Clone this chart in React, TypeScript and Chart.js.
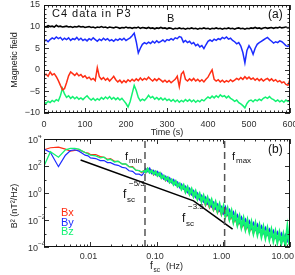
import { useEffect, useRef } from 'react';
import { Chart, registerables } from 'chart.js';

Chart.register(...registerables);

const FONT = '"Liberation Sans", Arial, Helvetica, sans-serif';

// ---------------- panel (a): time series ----------------
const timeSec = [
  0, 5, 10, 15, 20, 25, 30, 35, 40, 45, 50,
  55, 60, 65, 70, 75, 80, 85, 90, 95, 100,
  105, 110, 115, 120, 125, 130, 135, 140, 145, 150,
  155, 160, 165, 170, 175, 180, 185, 190, 195, 200,
  205, 210, 215, 220, 225, 230, 235, 240, 245, 250,
  255, 260, 265, 270, 275, 280, 285, 290, 295, 300,
  305, 310, 315, 320, 325, 330, 335, 340, 345, 350,
  355, 360, 365, 370, 375, 380, 385, 390, 395, 400,
  405, 410, 415, 420, 425, 430, 435, 440, 445, 450,
  455, 460, 465, 470, 475, 480, 485, 490, 495, 500,
  505, 510, 515, 520, 525, 530, 535, 540, 545, 550,
  555, 560, 565, 570, 575, 580, 585, 590, 595, 600,
];

const magB = [
  10.1, 9.9, 10.2, 10.0, 10.1, 9.9, 10.3, 10.0, 10.1, 9.9, 10.0,
  10.1, 9.9, 10.0, 9.8, 10.0, 9.9, 10.1, 9.9, 10.0, 9.8,
  9.9, 10.0, 9.8, 9.9, 9.7, 9.9, 9.8, 10.0, 9.8, 9.9,
  9.7, 9.9, 9.8, 9.7, 9.9, 9.8, 9.6, 9.8, 9.7, 9.9,
  9.7, 9.8, 9.6, 9.8, 9.7, 9.9, 9.6, 9.8, 9.7, 9.6,
  9.8, 9.6, 9.7, 9.5, 9.7, 9.6, 9.8, 9.6, 9.7, 9.5,
  9.7, 9.6, 9.4, 9.6, 9.5, 9.7, 9.5, 9.6, 9.4, 9.6,
  9.5, 9.7, 9.5, 9.6, 9.4, 9.6, 9.5, 9.7, 9.5, 9.6,
  9.4, 9.6, 9.5, 9.7, 9.5, 9.6, 9.4, 9.6, 9.5, 9.7,
  9.5, 9.6, 9.4, 9.6, 9.7, 9.5, 9.6, 9.4, 9.6, 9.5,
  9.7, 9.6, 9.8, 9.6, 9.7, 9.5, 9.7, 9.8, 9.6, 9.7,
  9.8, 9.6, 9.8, 9.7, 9.9, 9.7, 9.8, 9.9, 9.7, 9.8,
];

const byField = [
  6.6, 6.9, 6.5, 7.0, 7.4, 7.1, 7.6, 7.2, 7.5, 6.9, 7.3,
  7.0, 7.4, 6.8, 7.2, 7.0, 7.5, 6.9, 7.3, 6.8, 7.1,
  6.7, 7.2, 6.9, 7.4, 7.0, 6.6, 7.1, 6.8, 7.3, 6.9,
  7.2, 6.7, 7.0, 6.6, 7.1, 6.8, 7.2, 6.9, 7.3, 6.8,
  7.1, 7.4, 7.9, 8.5, 6.5, 3.9, 5.0, 5.9, 6.3, 6.0,
  6.4, 6.1, 6.6, 6.2, 6.7, 6.3, 6.6, 6.9, 6.5, 7.0,
  6.8, 7.2, 6.9, 7.4, 7.2, 7.7, 7.5, 6.4, 6.8, 6.3,
  6.6, 6.0, 6.3, 5.6, 5.9, 5.3, 5.6, 4.9, 5.8, 6.6,
  6.9, 6.6, 7.1, 6.8, 7.2, 7.0, 7.5, 7.2, 7.6, 7.1,
  7.3, 6.8, 6.5, 6.0, 6.3, 5.5, 4.0, 1.6, 4.5, 5.6,
  4.8, 3.6, 5.0, 5.9, 6.3, 6.6, 6.9, 7.2, 7.5, 7.0,
  6.6, 6.2, 6.5, 6.3, 6.7, 6.5, 6.1, 5.6, 5.4, 5.8,
];

const bxField = [
  -1.3, -1.0, -1.5, -0.5, -1.2, -0.9, -1.6, -2.5, -3.6, -4.6, -4.4,
  -3.0, -1.4, -0.5, -0.9, -1.3, -0.8, -1.4, -1.1, -1.7, -1.4,
  -2.0, -1.7, -2.3, -2.0, -2.5, 0.5, -1.6, -2.2, -1.8, -2.4,
  -2.0, -2.6, -2.1, -1.5, -2.3, -2.8, -2.4, -3.0, -2.5, -2.9,
  -2.3, -2.7, -2.2, -2.6, -2.1, -2.5, -1.9, -2.4, -2.0, -2.3,
  -1.7, -2.2, -2.6, -2.1, -2.5, -2.0, -2.4, -2.8, -2.4, -2.9,
  -2.5, -3.0, -2.6, -2.2, -1.5, -3.9, -1.0, -0.4, -2.2, -2.6,
  -2.1, -2.5, -2.0, -2.6, -2.2, -2.7, -2.3, -2.8, -2.2, -1.7,
  -0.8, 0.0, -2.2, -2.6, -2.3, -2.8, -2.4, -2.9, -2.5, -2.8,
  -2.3, -2.7, -2.4, -2.0, -2.3, -1.8, -2.2, -1.6, -2.1, -1.7,
  -2.2, -1.9, -2.4, -2.0, -2.5, -2.1, -2.6, -2.2, -2.0, -2.5,
  -2.1, -2.6, -2.3, -2.8, -2.5, -3.0, -2.8, -3.4, -3.6, -2.2,
];

const bzField = [
  -7.5, -7.8, -7.3, -7.6, -7.1, -7.4, -6.9, -7.2, -6.0, -4.3, -5.6,
  -6.4, -6.0, -6.6, -6.2, -6.7, -6.3, -6.8, -6.5, -6.9, -6.4,
  -6.0, -6.6, -7.0, -6.6, -7.1, -6.7, -7.0, -6.4, -6.8, -6.3,
  -6.7, -6.2, -6.8, -6.4, -6.9, -6.5, -7.0, -6.6, -7.2, -7.8,
  -8.6, -7.4, -5.5, -3.6, -4.8, -6.4, -7.2, -6.8, -7.1, -6.6,
  -5.9, -6.5, -6.2, -6.8, -6.4, -6.9, -6.5, -7.0, -6.6, -7.1,
  -6.8, -7.3, -6.9, -7.4, -7.0, -7.5, -7.1, -7.4, -6.9, -7.3,
  -6.9, -7.4, -7.0, -7.5, -7.1, -7.4, -6.9, -7.2, -6.7, -6.3,
  -6.6, -6.1, -6.5, -6.0, -6.4, -5.8, -6.2, -6.0, -6.5, -6.1,
  -6.6, -6.9, -7.3, -7.0, -7.6, -7.9, -8.3, -8.8, -7.8, -7.2,
  -7.0, -7.4, -6.9, -7.2, -6.8, -7.1, -6.6, -6.3, -6.6, -6.2,
  -6.7, -6.9, -7.3, -7.0, -7.4, -7.1, -7.5, -7.0, -7.3, -7.1,
];

const timeTicks = [0, 100, 200, 300, 400, 500, 600];
const fieldTicks = [-10, -5, 0, 5, 10, 15];

// ---------------- panel (b): spectra ----------------
const specFreq = [
  0.002, 0.0025, 0.0033, 0.0042, 0.005, 0.0058, 0.0067, 0.0075, 0.0083, 0.0092,
  0.010, 0.012, 0.014, 0.016, 0.018, 0.020, 0.023, 0.026, 0.030, 0.034,
  0.038, 0.043, 0.048, 0.054, 0.059,
  0.0631, 0.0676, 0.0724, 0.0776, 0.0832, 0.0891, 0.0955, 0.102, 0.110, 0.117,
  0.126, 0.135, 0.145, 0.155, 0.166, 0.178, 0.191, 0.204, 0.219, 0.234,
  0.251, 0.269, 0.288, 0.309, 0.331, 0.355, 0.380, 0.407, 0.437, 0.468,
  0.501, 0.537, 0.575, 0.617, 0.661, 0.708, 0.759, 0.813, 0.871, 0.933,
  1.00, 1.07, 1.15, 1.23, 1.32, 1.41, 1.51, 1.62, 1.74, 1.86,
  2.00, 2.14, 2.29, 2.45, 2.63, 2.82, 3.02, 3.24, 3.47, 3.72,
  3.98, 4.27, 4.57, 4.90, 5.25, 5.62, 6.03, 6.46, 6.92, 7.41,
  7.94, 8.51, 9.12, 9.77,
];

// log10 of the power spectral density (nT^2/Hz)
const bxLogPsd = [
  3.2, 3.35, 3.4, 3.25, 3.1, 3.15, 3.2, 3.1, 3.0, 2.95,
  2.85, 2.85, 2.7, 2.65, 2.5, 2.55, 2.35, 2.35, 2.15, 2.15,
  1.95, 1.95, 1.7, 1.65, 1.5,
  1.67, 1.51, 1.80, 1.52, 1.67, 1.35, 1.56, 1.27, 1.47, 1.11,
  1.25, 0.93, 1.12, 0.79, 0.98, 0.63, 0.82, 0.48, 0.65, 0.30,
  0.50, 0.05, 0.32, -0.11, 0.16, -0.28, -0.02, -0.47, -0.20, -0.63,
  -0.36, -0.92, -0.64, -1.10, -0.83, -1.27, -0.99, -1.45, -1.16, -1.61,
  -1.30, -1.78, -1.50, -1.99, -1.70, -2.18, -1.90, -2.39, -2.10, -2.56,
  -2.26, -2.72, -2.40, -2.85, -2.53, -2.98, -2.57, -3.01, -2.69, -3.14,
  -2.81, -3.25, -2.93, -3.38, -3.04, -3.47, -3.14, -3.58, -3.24, -3.67,
  -3.34, -3.78, -3.22, -3.80,
];

const byLogPsd = [
  3.25, 3.0, 1.95, 2.8, 3.15, 3.2, 3.1, 2.95, 2.8, 2.75,
  2.6, 2.55, 2.4, 2.4, 2.25, 2.25, 2.1, 2.05, 1.9, 1.85,
  1.65, 1.6, 1.4, 1.4, 1.3,
  1.48, 1.80, 1.60, 1.82, 1.46, 1.65, 1.37, 1.57, 1.25, 1.42,
  1.06, 1.23, 0.90, 1.11, 0.78, 0.98, 0.61, 0.79, 0.42, 0.64,
  0.31, 0.48, 0.06, 0.32, -0.10, 0.15, -0.30, -0.04, -0.47, -0.20,
  -0.63, -0.34, -0.78, -0.52, -0.99, -0.71, -1.15, -0.86, -1.30, -1.04,
  -1.49, -1.05, -1.57, -1.25, -1.73, -1.43, -1.95, -1.64, -2.15, -1.81,
  -2.30, -1.97, -2.45, -2.10, -2.58, -2.23, -2.69, -2.34, -2.82, -2.47,
  -2.94, -2.58, -3.05, -2.71, -3.17, -2.80, -3.27, -2.91, -3.36, -3.00,
  -3.47, -3.11, -3.55, -3.16,
];

const bzLogPsd = [
  2.0, 3.05, 2.65, 3.2, 3.3, 3.3, 3.25, 3.1, 3.0, 2.9,
  2.8, 2.75, 2.6, 2.65, 2.45, 2.5, 2.3, 2.35, 2.15, 2.15,
  1.95, 1.9, 1.7, 1.65, 1.55,
  1.65, 1.55, 1.78, 1.53, 1.65, 1.42, 1.57, 1.30, 1.45, 1.13,
  1.27, 0.98, 1.14, 0.81, 0.97, 0.64, 0.85, 0.50, 0.68, 0.30,
  0.56, 0.10, 0.42, -0.05, 0.27, -0.23, 0.10, -0.42, -0.08, -0.61,
  -0.23, -0.77, -0.37, -0.92, -0.54, -1.13, -0.70, -1.31, -0.85, -1.49,
  -1.00, -1.70, -1.18, -1.90, -1.37, -2.12, -1.56, -2.33, -1.76, -2.52,
  -1.91, -2.66, -2.05, -2.82, -2.19, -2.94, -2.29, -3.05, -2.42, -3.19,
  -2.55, -3.30, -2.65, -3.41, -2.77, -3.52, -2.88, -3.63, -2.97, -3.71,
  -3.07, -3.83, -2.60, -3.83,
];

const fitFreq = [0.0071, 0.355, 1.37];
const fitPsd = [275, 0.26, 0.0021];
const fMin = 0.066;
const fMax = 1.04;
const psdAxisMin = 1e-4;
const psdAxisMax = 1e4;

const freqTicks = [0.01, 0.1, 1, 10];
const freqTickLabels = ['0.01', '0.10', '1.00', '10.00'];
const psdTicks = [1e-4, 1e-2, 1, 1e2, 1e4];
const psdTickExp = ['\u22124', '\u22122', '0', '2', '4'];

const RED = '#ff2e14';
const BLUE = '#1c2cff';
const GREEN = '#12f272';

// ---------------- helpers ----------------
const pts = (xs: number[], ys: number[]) => xs.map((x, i) => ({ x, y: ys[i] }));

function drawFrame(chart: any, xMaj: number[], xMin: number[], yMaj: number[], yMin: number[]) {
  const { ctx, chartArea: a } = chart;
  const xs = chart.scales.x;
  const ys = chart.scales.y;
  ctx.save();
  ctx.strokeStyle = '#333';
  ctx.lineWidth = 1;
  ctx.beginPath();
  const vt = (v: number, len: number) => {
    const p = Math.round(xs.getPixelForValue(v)) + 0.5;
    ctx.moveTo(p, a.bottom);
    ctx.lineTo(p, a.bottom - len);
    ctx.moveTo(p, a.top);
    ctx.lineTo(p, a.top + len);
  };
  const ht = (v: number, len: number) => {
    const p = Math.round(ys.getPixelForValue(v)) + 0.5;
    ctx.moveTo(a.left, p);
    ctx.lineTo(a.left + len, p);
    ctx.moveTo(a.right, p);
    ctx.lineTo(a.right - len, p);
  };
  xMaj.forEach((v) => vt(v, 5));
  xMin.forEach((v) => vt(v, 2.5));
  yMaj.forEach((v) => ht(v, 5));
  yMin.forEach((v) => ht(v, 2.5));
  ctx.stroke();
  ctx.strokeStyle = '#111';
  ctx.strokeRect(a.left + 0.5, a.top + 0.5, a.right - a.left - 1, a.bottom - a.top - 1);
  ctx.restore();
}

function text(ctx: any, s: string, x: number, y: number, size: number, color = '#111', align = 'left', base = 'alphabetic') {
  ctx.font = `${size}px ${FONT}`;
  ctx.fillStyle = color;
  ctx.textAlign = align;
  ctx.textBaseline = base;
  ctx.fillText(s, x, y);
}

const baseOptions = {
  animation: false,
  responsive: false,
  devicePixelRatio: 1,
  events: [],
  plugins: { legend: { display: false }, tooltip: { enabled: false } },
  elements: { point: { radius: 0 }, line: { tension: 0 } },
};

const tickFont = { family: FONT, size: 9 };

function topConfig(): any {
  const xMinor: number[] = [];
  for (let t = 10; t < 600; t += 10) if (t % 100 !== 0) xMinor.push(t);
  const yMinor: number[] = [];
  for (let v = -9; v < 15; v += 1) if (v % 5 !== 0) yMinor.push(v);
  return {
    type: 'line',
    data: {
      datasets: [
        { data: pts(timeSec, magB), borderColor: '#000', borderWidth: 1.6 },
        { data: pts(timeSec, byField), borderColor: BLUE, borderWidth: 1.5 },
        { data: pts(timeSec, bxField), borderColor: RED, borderWidth: 1.5 },
        { data: pts(timeSec, bzField), borderColor: GREEN, borderWidth: 1.5 },
      ],
    },
    options: {
      ...baseOptions,
      layout: { padding: { left: 0, top: 5, right: 5, bottom: 0 } },
      scales: {
        x: {
          type: 'linear', min: 0, max: 600,
          grid: { display: false, drawTicks: false },
          border: { display: false },
          ticks: { stepSize: 100, padding: 6, color: '#333', font: tickFont, maxRotation: 0, autoSkip: false },
          afterFit: (s: any) => { s.height = 27; s.paddingLeft = 0; s.paddingRight = 0; },
        },
        y: {
          type: 'linear', min: -10, max: 15,
          grid: { display: false, drawTicks: false },
          border: { display: false },
          ticks: {
            stepSize: 5, padding: 4, color: '#333', font: tickFont,
            callback: (v: number) => (v < 0 ? '\u2212' + Math.abs(v) : String(v)),
          },
          afterFit: (s: any) => { s.width = 44; s.paddingTop = 0; s.paddingBottom = 0; },
        },
      },
    },
    plugins: [
      {
        id: 'decorA',
        afterDraw(chart: any) {
          const ctx = chart.ctx;
          drawFrame(chart, timeTicks, xMinor, fieldTicks, yMinor);
          ctx.save();
          ctx.letterSpacing = '1px';
          text(ctx, 'C4 data in P3', 52, 14, 11, '#111', 'left', 'middle');
          ctx.letterSpacing = '0px';
          text(ctx, 'B', 167, 19, 11, '#111', 'left', 'middle');
          text(ctx, '(a)', 268, 15, 12, '#111', 'left', 'middle');
          text(ctx, 'Time (s)', 167, 133, 9, '#222', 'center', 'middle');
          ctx.translate(15, 60);
          ctx.rotate(-Math.PI / 2);
          text(ctx, 'Magnetic field', 0, 0, 9, '#222', 'center', 'middle');
          ctx.restore();
        },
      },
    ],
  };
}

function botConfig(): any {
  const xMinor: number[] = [];
  [0.001, 0.01, 0.1, 1].forEach((d) => {
    for (let m = 2; m <= 9; m++) {
      const v = m * d;
      if (v >= 0.002 && v <= 10) xMinor.push(v);
    }
  });
  const yMinor = [1e-3, 1e-1, 1e1, 1e3];
  const wide = (w0: number, w1: number) => ({
    borderWidth: (c: any) => (c.p0 && c.p0.parsed && c.p0.parsed.x > 0.06 ? w1 : w0),
  });
  return {
    type: 'line',
    data: {
      datasets: [
        { data: [{ x: fMin, y: psdAxisMin }, { x: fMin, y: psdAxisMax }], borderColor: '#555', borderWidth: 1.5, borderDash: [7, 4] },
        { data: [{ x: fMax, y: psdAxisMin }, { x: fMax, y: psdAxisMax }], borderColor: '#555', borderWidth: 1.5, borderDash: [7, 4] },
        { data: pts(fitFreq, fitPsd), borderColor: '#000', borderWidth: 1.5 },
        { data: pts(specFreq, bzLogPsd.map((v) => 10 ** v)), borderColor: GREEN, borderWidth: 1.3, segment: wide(1.3, 2.4) },
        { data: pts(specFreq, byLogPsd.map((v) => 10 ** v)), borderColor: BLUE, borderWidth: 1.2, segment: wide(1.2, 1.6) },
        { data: pts(specFreq, bxLogPsd.map((v) => 10 ** v)), borderColor: RED, borderWidth: 1.2, segment: wide(1.2, 1.6) },
      ],
    },
    options: {
      ...baseOptions,
      layout: { padding: { left: 0, top: 4, right: 5, bottom: 0 } },
      scales: {
        x: {
          type: 'logarithmic', min: 0.002, max: 10,
          grid: { display: false, drawTicks: false },
          border: { display: false },
          afterBuildTicks: (s: any) => { s.ticks = freqTicks.map((v) => ({ value: v })); },
          ticks: { display: false },
          afterFit: (s: any) => { s.height = 28; s.paddingLeft = 0; s.paddingRight = 0; },
        },
        y: {
          type: 'logarithmic', min: psdAxisMin, max: psdAxisMax,
          grid: { display: false, drawTicks: false },
          border: { display: false },
          afterBuildTicks: (s: any) => { s.ticks = psdTicks.map((v) => ({ value: v })); },
          ticks: { display: false },
          afterFit: (s: any) => { s.width = 44; s.paddingTop = 0; s.paddingBottom = 0; },
        },
      },
    },
    plugins: [
      {
        id: 'decorB',
        afterDraw(chart: any) {
          const ctx = chart.ctx;
          const xs = chart.scales.x;
          const ys = chart.scales.y;
          drawFrame(chart, freqTicks, xMinor, psdTicks, yMinor);
          ctx.save();
          psdTicks.forEach((v, i) => {
            const y = ys.getPixelForValue(v);
            text(ctx, '10', 28, y + 3.5, 9, '#333');
            text(ctx, psdTickExp[i], 38, y - 1, 6.5, '#333');
          });
          freqTicks.forEach((v, i) => {
            ctx.font = `9px ${FONT}`;
            const w = ctx.measureText(freqTickLabels[i]).width;
            let cx = xs.getPixelForValue(v) - 2;
            if (cx + w / 2 > 294) cx = 294 - w / 2;
            text(ctx, freqTickLabels[i], cx, 122, 9, '#333', 'center', 'middle');
          });
          text(ctx, '(b)', 268, 15, 12, '#111', 'left', 'middle');
          // f_min / f_max
          text(ctx, 'f', 125, 25, 11);
          text(ctx, 'min', 129, 28, 8);
          text(ctx, 'f', 232, 25, 11);
          text(ctx, 'max', 236, 28, 8);
          // slopes
          text(ctx, 'f', 123, 63, 12);
          text(ctx, 'sc', 127, 67, 8);
          text(ctx, '\u22125/3', 129, 51, 8);
          text(ctx, 'f', 182, 87, 12);
          text(ctx, 'sc', 186, 91, 8);
          text(ctx, '\u22123.5', 188, 74, 8);
          // legend
          text(ctx, 'Bx', 61, 78, 11, RED, 'left', 'middle');
          text(ctx, 'By', 61, 87.5, 11, BLUE, 'left', 'middle');
          text(ctx, 'Bz', 61, 97, 11, GREEN, 'left', 'middle');
          // x title
          text(ctx, 'f', 150, 134, 10, '#222');
          text(ctx, 'sc', 153.5, 136.5, 6.5, '#222');
          text(ctx, '(Hz)', 166, 134, 9, '#222');
          // y title
          ctx.translate(15, 71);
          ctx.rotate(-Math.PI / 2);
          text(ctx, 'B\u00b2 (nT\u00b2/Hz)', 0, 0, 9, '#222', 'center', 'middle');
          ctx.restore();
        },
      },
    ],
  };
}

export default function App() {
  const topRef = useRef<HTMLCanvasElement>(null);
  const botRef = useRef<HTMLCanvasElement>(null);
  useEffect(() => {
    const a = new Chart(topRef.current as HTMLCanvasElement, topConfig());
    const b = new Chart(botRef.current as HTMLCanvasElement, botConfig());
    return () => {
      a.destroy();
      b.destroy();
    };
  }, []);
  return (
    <div style={{ position: 'absolute', left: 0, top: 0, width: 295, height: 275, background: '#fff' }}>
      <canvas ref={topRef} width={295} height={140} style={{ position: 'absolute', left: 0, top: 0, width: 295, height: 140 }} />
      <canvas ref={botRef} width={295} height={140} style={{ position: 'absolute', left: 0, top: 135, width: 295, height: 140 }} />
    </div>
  );
}
